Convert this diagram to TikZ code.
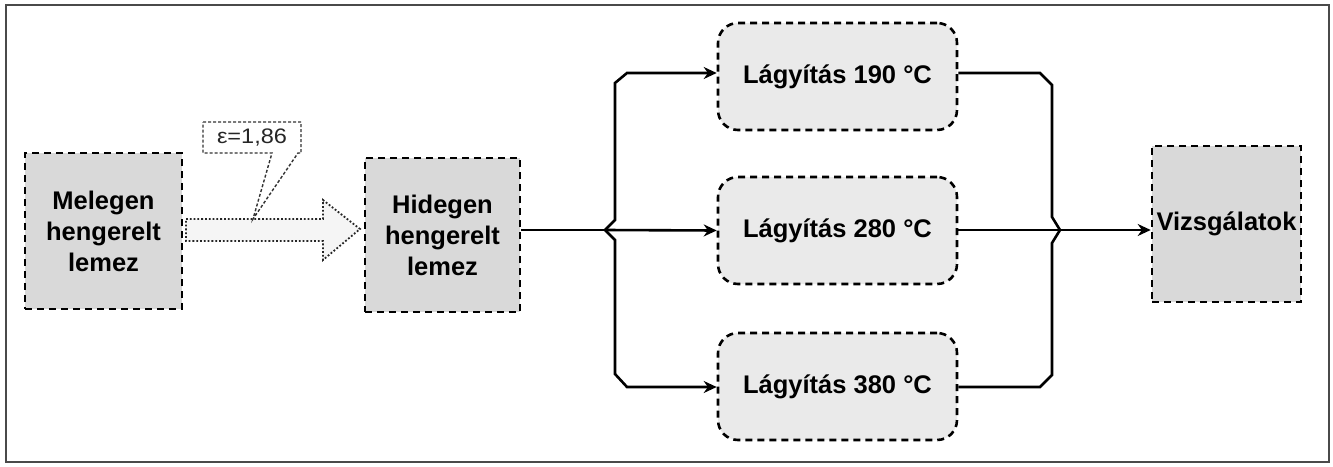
\documentclass[tikz,border=0pt]{standalone}
\usepackage{fontspec}
\setmainfont{Liberation Sans}
\usetikzlibrary{arrows.meta}
\definecolor{boxgray}{HTML}{D9D9D9}
\definecolor{softgray}{HTML}{EAEAEA}
\definecolor{framegray}{HTML}{4A4A4A}
\begin{document}
\begin{tikzpicture}[x=1pt,y=-1pt,
  lbl/.style={font=\bfseries\fontsize{25.5}{31}\selectfont, align=center, text=black},
  sqbox/.style={lbl, draw=black, fill=boxgray, line width=2.6pt, dash pattern=on 7pt off 5pt, inner sep=0pt},
  rbox/.style={lbl, draw=black, fill=softgray, line width=2.6pt, dash pattern=on 7pt off 5pt, rounded corners=20pt, minimum width=239pt, minimum height=107pt, inner sep=0pt},
  conn/.style={line width=2.6pt, black},
  arr/.style={conn, -{Stealth[length=13pt,width=12pt]}}
]
\useasboundingbox (0,0) rectangle (1333,466);
\draw[framegray, line width=2.5pt] (6,5) rectangle (1329,462);

\node[sqbox, minimum width=157pt, minimum height=156pt] (hot) at (103.5,231) {Melegen\\hengerelt\\lemez};
\node[sqbox, minimum width=155pt, minimum height=154pt] (cold) at (442.5,235) {Hidegen\\hengerelt\\lemez};
\node[rbox] (l1) at (837.5,76.5) {Lágyítás 190 °C};
\node[rbox] (l2) at (837.5,230.5) {Lágyítás 280 °C};
\node[rbox] (l3) at (837.5,386.5) {Lágyítás 380 °C};
\node[sqbox, minimum width=149pt, minimum height=156pt] (viz) at (1226.5,224) {Vizsgálatok};

% block arrow
\draw[fill=gray!8, draw=black!85, line width=1.8pt, dotted]
  (186,219) -- (323,219) -- (323,200) -- (360,229) -- (323,260) -- (323,241) -- (186,241) -- cycle;
% callout
\draw[fill=white, draw=black!80, line width=1.4pt, densely dashed]
  (203,122) -- (301,122) -- (301,153) -- (298,153) -- (253,219) -- (272,153) -- (203,153) -- cycle;
\node[font=\fontsize{21}{24}\selectfont, xscale=1.12, text=black!85] (eps) at (252,137.5) {ε=1,86};

% brace points
\coordinate (sl) at (605,230);
\coordinate (sr) at (1060,230);
\coordinate (a1) at (627,73);
\coordinate (a3) at (627,387);
\coordinate (b1) at (1040,73);
\coordinate (b3) at (1040,387);

\draw[conn] (cold.east |- sl) -- (sl);
\draw[arr] (sl) -- (l2.west);
\draw[arr, line join=miter] (sl) -- (615,220) -- (615,83) -- (a1) -- (l1.west |- a1);
\draw[arr, line join=miter] (sl) -- (615,240) -- (615,374) -- (a3) -- (l3.west |- a3);

\draw[conn] (l1.east |- b1) -- (b1) -- (1052,85) -- (1052,217) -- (sr);
\draw[conn] (l3.east |- b3) -- (b3) -- (1052,375) -- (1052,243) -- (sr);
\draw[conn] (l2.east |- sr) -- (sr);
\draw[arr] (sr) -- (viz.west |- sr);
\end{tikzpicture}
\end{document}
